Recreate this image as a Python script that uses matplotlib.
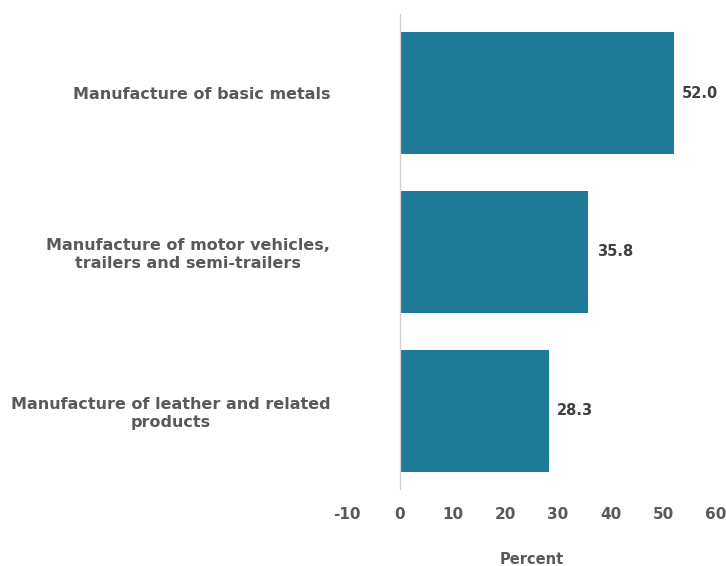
import matplotlib
matplotlib.use('Agg')
import matplotlib.pyplot as plt

# Data
categories = [
    "Manufacture of basic metals",
    "Manufacture of motor vehicles,\ntrailers and semi-trailers",
    "Manufacture of leather and related\nproducts",
]
values = [52.0, 35.8, 28.3]
x_ticks = [-10, 0, 10, 20, 30, 40, 50, 60]

BAR_COLOR = "#1f7a98"
TEXT_COLOR = "#595959"

plt.rcParams['font.family'] = ['DejaVu Sans']

fig = plt.figure(figsize=(7.26, 5.66), dpi=100)
ax = fig.add_axes([347 / 726, 1 - 490 / 566, (716 - 347) / 726, (490 - 14) / 566])

y = list(range(len(categories)))
ax.barh(y, values, height=0.77, color=BAR_COLOR)

# Value labels to the right of each bar
for yi, v in zip(y, values):
    ax.text(v + 1.6, yi, f"{v:.1f}", va="center", ha="left",
            fontsize=10.5, fontweight="bold", color="#404040")

ax.set_xlim(-10, 60)
ax.set_ylim(len(categories) - 0.5, -0.5)

ax.set_yticks(y)
ax.set_yticklabels(categories, fontsize=11.5, fontweight="bold", color=TEXT_COLOR)
for lbl in ax.get_yticklabels():
    lbl.set_multialignment("center")
ax.set_xticks(x_ticks)
ax.set_xticklabels([str(t) for t in x_ticks], fontsize=11, fontweight="bold", color=TEXT_COLOR)

ax.tick_params(axis="y", length=0, pad=12)
ax.tick_params(axis="x", length=0, pad=12)

for s in ax.spines.values():
    s.set_visible(False)
ax.axvline(0, color="#d0d0d0", linewidth=1)

ax.set_xlabel("Percent", fontsize=10.5, fontweight="bold", color=TEXT_COLOR, labelpad=22)

fig.savefig("out.png", dpi=100)
